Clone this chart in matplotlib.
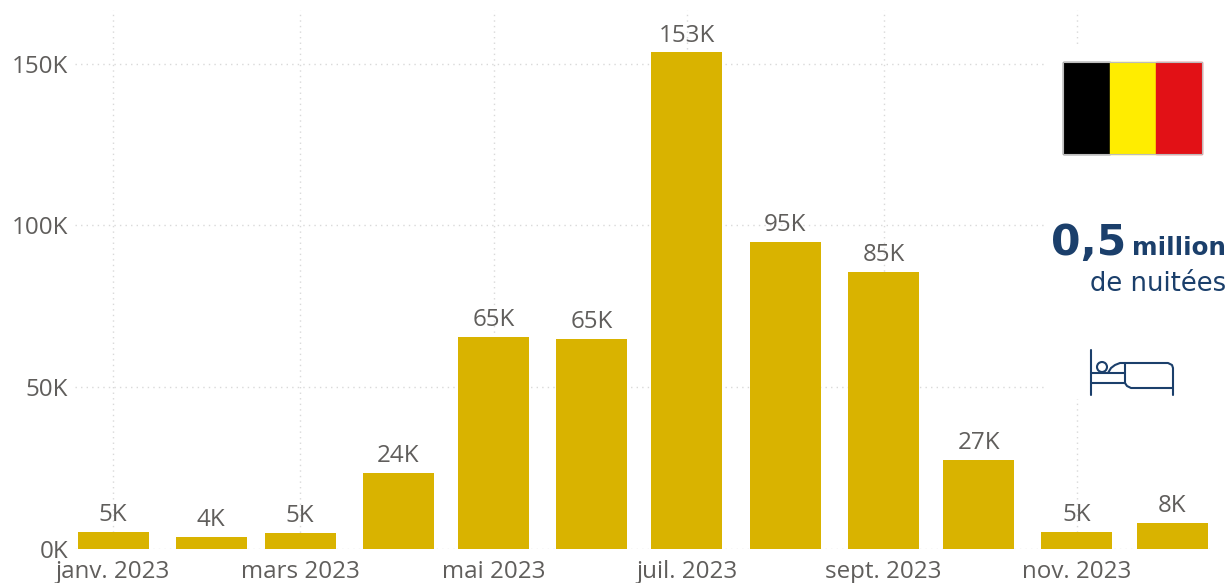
import numpy as np
import pandas as pd
import matplotlib
matplotlib.use("Agg")
import matplotlib.pyplot as plt
from matplotlib.patches import Rectangle, Circle

plt.rcParams["font.family"] = ["Open Sans", "DejaVu Sans"]

# Data
months = pd.date_range("2023-01-01", periods=12, freq="MS")
nights = [5100, 3600, 4800, 23500, 65400, 64900, 153500, 94800, 85500, 27400, 5100, 7900]
labels = ["5K", "4K", "5K", "24K", "65K", "65K", "153K", "95K", "85K", "27K", "5K", "8K"]
y_ticks = [0, 50000, 100000, 150000]
y_tick_labels = ["0K", "50K", "100K", "150K"]
x_tick_idx = [0, 2, 4, 6, 8, 10]
x_tick_labels = ["janv. 2023", "mars 2023", "mai 2023", "juil. 2023", "sept. 2023", "nov. 2023"]

W, H = 1228, 583
grey = "#605E5C"
gold = "#D9B300"
navy = "#1B3F6B"

fig = plt.figure(figsize=(W / 100, H / 100), dpi=100, facecolor="white")

# Chart axes placed in pixels
left, right, top, bottom = 75, 1210, 10, 548.5
ax = fig.add_axes([left / W, 1 - bottom / H, (right - left) / W, (bottom - top) / H])

days = np.array((months - months[0]).days, dtype=float)
px_per_day = 3.171
ax.set_xlim((left - 113) / px_per_day, (right - 113) / px_per_day)
ax.set_ylim(0, (bottom - top) / 3.232 * 1000)

ax.bar(days, nights, width=71 / px_per_day, color=gold, zorder=3)
for d, v, t in zip(days, nights, labels):
    ax.annotate(t, (d, v), xytext=(0, 3.5), textcoords="offset points", ha="center",
                va="bottom", fontsize=17.4, color=grey, zorder=4)

ax.set_xticks(days[x_tick_idx])
ax.set_xticklabels(x_tick_labels)
ax.set_yticks(y_ticks)
ax.set_yticklabels(y_tick_labels)
ax.tick_params(length=0, labelsize=17.4, labelcolor=grey)
ax.tick_params(axis="x", pad=8)
ax.tick_params(axis="y", pad=5)
ax.grid(True, color="#D9D9D9", linestyle=(0, (1, 3)), linewidth=1, zorder=0)
ax.set_axisbelow(True)
for s in ax.spines.values():
    s.set_visible(False)

# Overlay for the side panel, in pixel coordinates
ov = fig.add_axes([0, 0, 1, 1], facecolor="none")
ov.set_xlim(0, W)
ov.set_ylim(H, 0)
ov.axis("off")
ov.add_patch(Rectangle((1046, 46), 182, 352, color="white", zorder=1))

# Flag
ov.add_patch(Rectangle((1063, 62), 46.5, 92, color="#000000", zorder=2))
ov.add_patch(Rectangle((1109.5, 62), 46.5, 92, color="#FFED00", zorder=2))
ov.add_patch(Rectangle((1156, 62), 46, 92, color="#E21116", zorder=2))
ov.add_patch(Rectangle((1063, 62), 139, 92, fill=False, edgecolor="#BDBDBD", linewidth=0.8, zorder=3))

# Big figure
ov.text(1126, 255, "0,5", ha="right", va="baseline", fontsize=30.5, fontweight="bold",
        family="DejaVu Sans", color=navy, zorder=3)
ov.text(1226, 255, "million", ha="right", va="baseline", fontsize=17.7, fontweight="bold",
        family="DejaVu Sans", color=navy, zorder=3)
ov.text(1226, 291, "de nuitées", ha="right", va="baseline", fontsize=18.6,
        family="DejaVu Sans", color=navy, zorder=3)

# Bed icon
lw = 1.5
bed_lines = [
    ([1091, 1091], [350, 395]),
    ([1091, 1125], [373, 373]),
    ([1091, 1125], [383, 383]),
    ([1125, 1125, 1127, 1131, 1173], [363, 383, 386, 388, 388]),
    ([1108, 1111, 1115, 1120, 1168, 1172, 1173, 1173], [373, 368, 365, 363, 363, 365, 368, 395]),
]
for xs, ys in bed_lines:
    ov.plot(xs, ys, color=navy, linewidth=lw, solid_capstyle="round", zorder=3)
ov.add_patch(Circle((1102, 367), 5, fill=False, edgecolor=navy, linewidth=lw, zorder=3))

fig.savefig("out.png", dpi=100)
